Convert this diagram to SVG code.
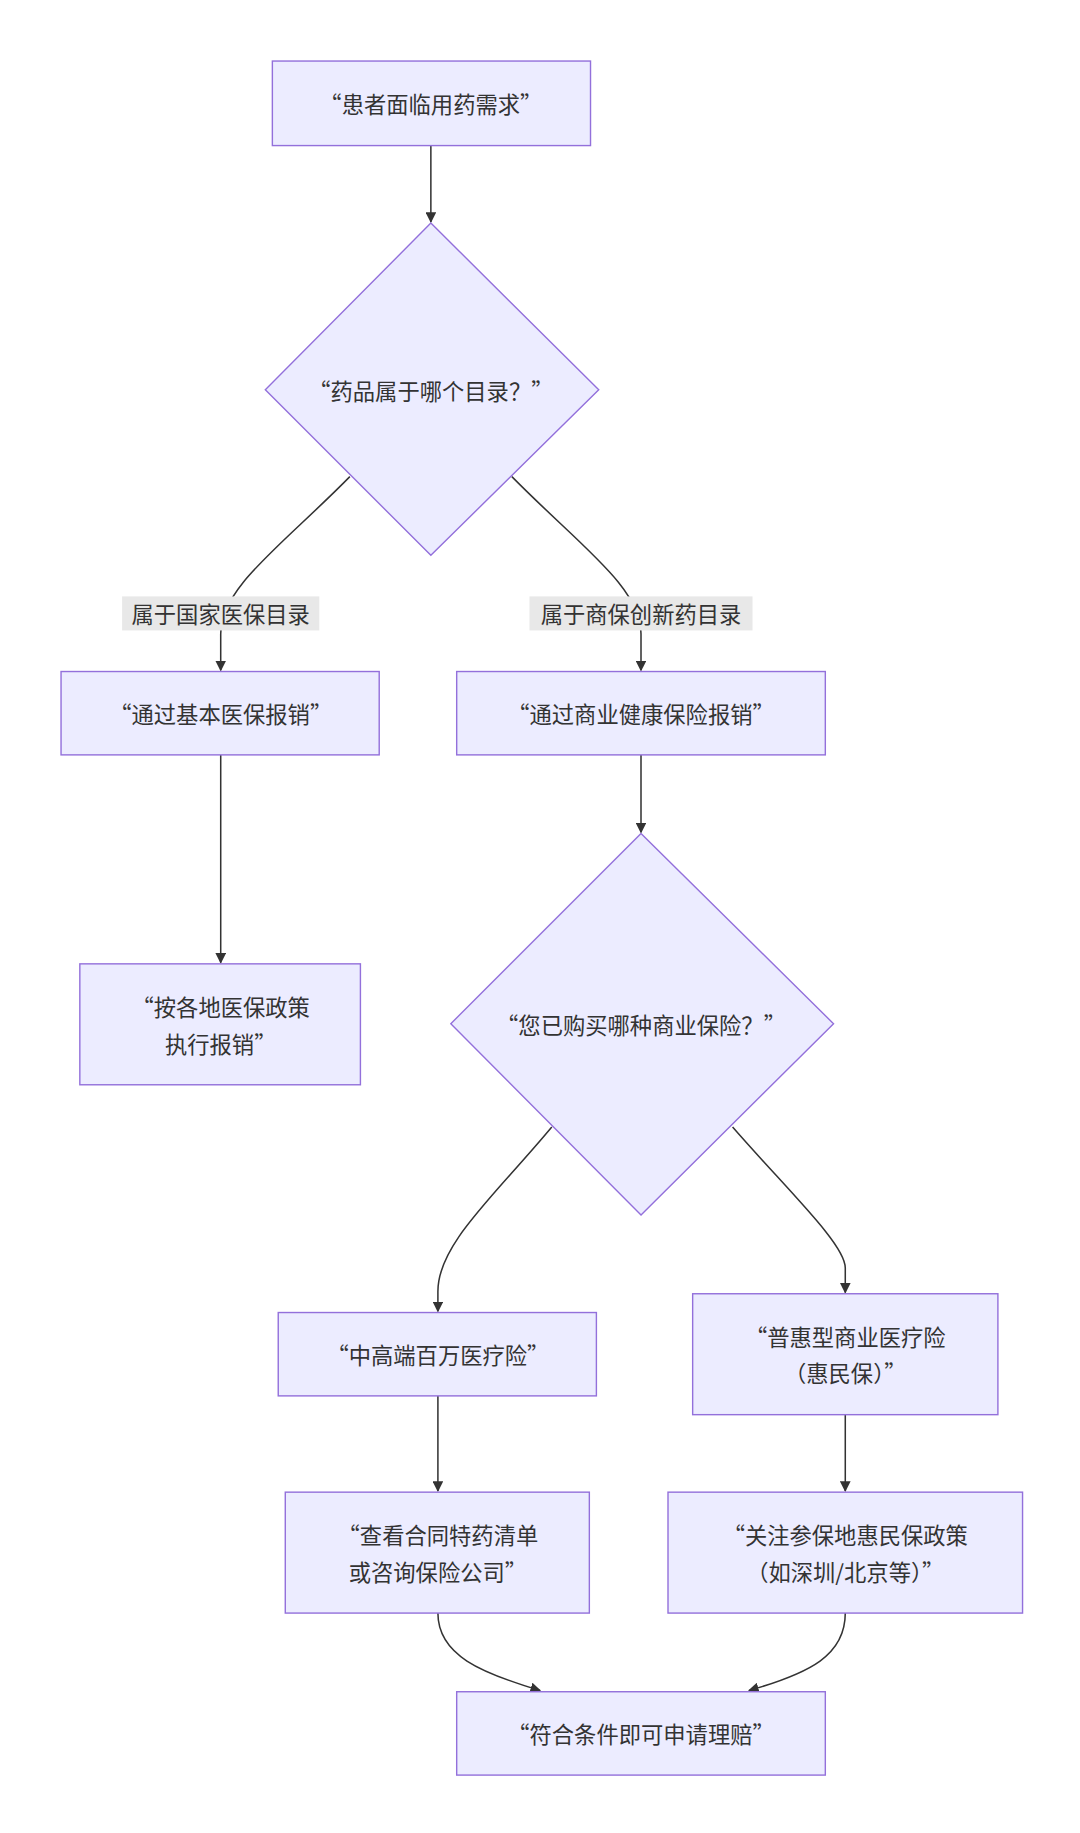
<svg xmlns="http://www.w3.org/2000/svg" width="1080" height="1833" viewBox="0 0 1080 1833">
<style>
.n{fill:#ECECFF;stroke:#9370DB;stroke-width:1.2}
.t{font-family:"Noto Sans CJK SC","Noto Sans",sans-serif;font-size:19px;fill:#333;text-anchor:middle;dominant-baseline:central}
.e{fill:none;stroke:#333;stroke-width:1.3}
.lb{fill:#e8e8e8}
</style>
<defs><marker id="a" viewBox="0 0 10 10" refX="9" refY="5" markerWidth="7" markerHeight="7" orient="auto"><path d="M0,0L10,5L0,10z" fill="#333"/></marker></defs>
<rect width="1080" height="1833" fill="#fff"/>
<g transform="scale(1.174)">
<g id="edges">
<path class="e" d="M367,124V189" marker-end="url(#a)"/>
<path class="e" d="M298,406C240,465 188,500 188,540V571" marker-end="url(#a)"/>
<path class="e" d="M436,406C494,465 546,500 546,540V571" marker-end="url(#a)"/>
<path class="e" d="M188,643V820" marker-end="url(#a)"/>
<path class="e" d="M546,643V709" marker-end="url(#a)"/>
<path class="e" d="M470,960C420,1020 373,1060 373,1100V1117" marker-end="url(#a)"/>
<path class="e" d="M624,960C672,1015 720,1060 720,1080V1101" marker-end="url(#a)"/>
<path class="e" d="M373,1189V1270" marker-end="url(#a)"/>
<path class="e" d="M720,1205V1270" marker-end="url(#a)"/>
<path class="e" d="M373,1374C373,1410 410,1425 460,1440" marker-end="url(#a)"/>
<path class="e" d="M720,1374C720,1410 690,1425 638,1440" marker-end="url(#a)"/>
<rect class="lb" x="104" y="508" width="168" height="29"/>
<text class="t" x="188" y="522">属于国家医保目录</text>
<rect class="lb" x="451" y="508" width="190" height="29"/>
<text class="t" x="546" y="522">属于商保创新药目录</text>
</g>
<g id="n1"><rect class="n" x="232" y="52" width="271" height="72"/><text class="t" x="367" y="88">“患者面临用药需求”</text></g>
<g id="n2"><path class="n" d="M367,190L510,332L367,473L226,332Z"/><text class="t" x="367" y="332">“药品属于哪个目录？”</text></g>
<g id="n3"><rect class="n" x="52" y="572" width="271" height="71"/><text class="t" x="188" y="607">“通过基本医保报销”</text></g>
<g id="n4"><rect class="n" x="389" y="572" width="314" height="71"/><text class="t" x="546" y="607">“通过商业健康保险报销”</text></g>
<g id="n5"><rect class="n" x="68" y="821" width="239" height="103"/><text class="t" x="188" y="857">“按各地医保政策</text><text class="t" x="188" y="888">执行报销”</text></g>
<g id="n6"><path class="n" d="M546,710L710,872L546,1035L384,872Z"/><text class="t" x="546" y="872">“您已购买哪种商业保险？”</text></g>
<g id="n7"><rect class="n" x="237" y="1118" width="271" height="71"/><text class="t" x="373" y="1153">“中高端百万医疗险”</text></g>
<g id="n8"><rect class="n" x="590" y="1102" width="260" height="103"/><text class="t" x="720" y="1138">“普惠型商业医疗险</text><text class="t" x="720" y="1169">（惠民保）”</text></g>
<g id="n9"><rect class="n" x="243" y="1271" width="259" height="103"/><text class="t" x="373" y="1307">“查看合同特药清单</text><text class="t" x="373" y="1338">或咨询保险公司”</text></g>
<g id="n10"><rect class="n" x="569" y="1271" width="302" height="103"/><text class="t" x="720" y="1307">“关注参保地惠民保政策</text><text class="t" x="720" y="1338">（如深圳/北京等）”</text></g>
<g id="n11"><rect class="n" x="389" y="1441" width="314" height="71"/><text class="t" x="546" y="1476">“符合条件即可申请理赔”</text></g>
</g>
</svg>
